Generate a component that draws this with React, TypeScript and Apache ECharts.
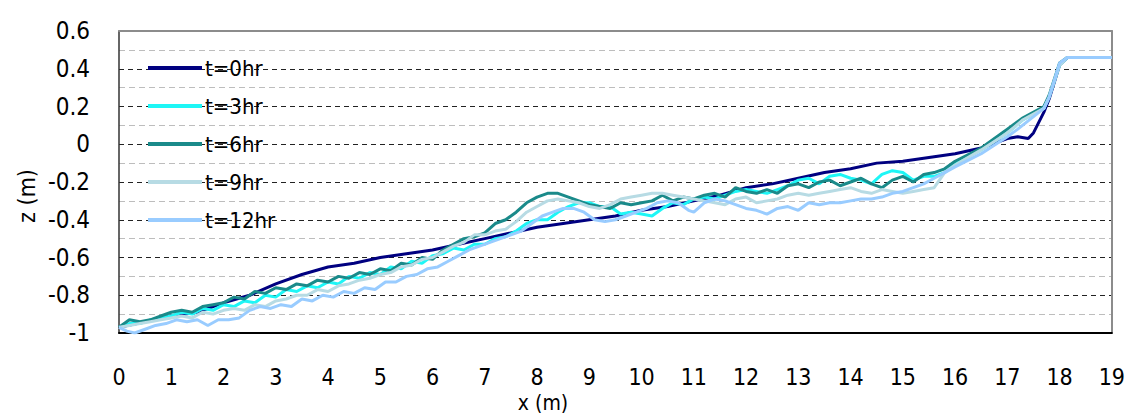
import React, { useEffect, useRef } from "react";
import * as echarts from "echarts";

const FONT = "'DejaVu Sans Condensed', 'Liberation Sans Narrow', 'Arial Narrow', sans-serif";

const seriesNames = ["t=0hr", "t=3hr", "t=6hr", "t=9hr", "t=12hr"];
const seriesColors = ["#000080", "#1ef6f6", "#1a8a8a", "#b7dbe4", "#99ccff"];

const t0: number[][] = [
  [0, -0.97], [0.5, -0.94], [1, -0.91], [1.5, -0.89], [2, -0.84], [2.5, -0.8], [3, -0.74],
  [3.5, -0.69], [4, -0.65], [4.5, -0.63], [5, -0.6], [5.5, -0.58], [6, -0.56], [6.5, -0.53],
  [7, -0.5], [7.5, -0.47], [8, -0.44], [8.5, -0.42], [9, -0.4], [9.5, -0.38], [10, -0.35],
  [10.5, -0.33], [11, -0.3], [11.5, -0.27], [12, -0.23], [12.5, -0.21], [13, -0.18],
  [13.5, -0.15], [14, -0.13], [14.5, -0.1], [15, -0.09], [15.5, -0.07], [16, -0.05],
  [16.5, -0.02], [17, 0.03], [17.2, 0.04], [17.4, 0.03], [17.5, 0.06], [17.7, 0.17],
  [17.8, 0.24], [18, 0.42], [18.15, 0.46], [19, 0.46],
];

const t3: number[][] = [
  [0, -0.97], [0.2, -0.95], [0.4, -0.95], [0.6, -0.93], [0.8, -0.92], [1, -0.91], [1.2, -0.89],
  [1.4, -0.9], [1.6, -0.87], [1.8, -0.88], [2, -0.85], [2.2, -0.86], [2.4, -0.83], [2.6, -0.84],
  [2.8, -0.8], [3, -0.81], [3.2, -0.77], [3.4, -0.78], [3.6, -0.75], [3.8, -0.76], [4, -0.73],
  [4.2, -0.74], [4.4, -0.7], [4.6, -0.71], [4.8, -0.68], [5, -0.69], [5.2, -0.65], [5.4, -0.66],
  [5.6, -0.62], [5.8, -0.63], [6, -0.59], [6.2, -0.58], [6.4, -0.55], [6.6, -0.56], [6.8, -0.53],
  [7, -0.53], [7.2, -0.5], [7.4, -0.49], [7.6, -0.46], [7.8, -0.42], [8, -0.4], [8.2, -0.4],
  [8.4, -0.36], [8.6, -0.33], [8.8, -0.31], [9, -0.31], [9.2, -0.33], [9.4, -0.33], [9.6, -0.37],
  [9.8, -0.36], [10, -0.37], [10.2, -0.38], [10.4, -0.34], [10.6, -0.31], [10.8, -0.32],
  [11, -0.29], [11.2, -0.28], [11.4, -0.29], [11.6, -0.27], [11.8, -0.25], [12, -0.24],
  [12.2, -0.25], [12.4, -0.26], [12.6, -0.24], [12.8, -0.22], [13, -0.19], [13.2, -0.18],
  [13.4, -0.21], [13.6, -0.17], [13.8, -0.16], [14, -0.18], [14.2, -0.19], [14.4, -0.21],
  [14.6, -0.16], [14.8, -0.14], [15, -0.15], [15.2, -0.19], [15.4, -0.17], [15.6, -0.17],
  [15.8, -0.15], [16, -0.1], [16.5, -0.03], [17, 0.06], [17.3, 0.13], [17.7, 0.19],
  [17.8, 0.25], [18, 0.42], [18.15, 0.46], [19, 0.46],
];

const t6: number[][] = [
  [0, -0.97], [0.2, -0.93], [0.4, -0.94], [0.6, -0.93], [0.8, -0.91], [1, -0.89], [1.2, -0.88],
  [1.4, -0.89], [1.6, -0.86], [1.8, -0.85], [2, -0.84], [2.2, -0.81], [2.4, -0.82], [2.6, -0.78],
  [2.8, -0.79], [3, -0.76], [3.2, -0.77], [3.4, -0.74], [3.6, -0.75], [3.8, -0.72], [4, -0.73],
  [4.2, -0.7], [4.4, -0.71], [4.6, -0.68], [4.8, -0.69], [5, -0.66], [5.2, -0.67], [5.4, -0.63],
  [5.6, -0.64], [5.8, -0.6], [6, -0.61], [6.2, -0.56], [6.4, -0.53], [6.6, -0.5], [6.8, -0.49],
  [7, -0.47], [7.2, -0.42], [7.4, -0.4], [7.6, -0.36], [7.8, -0.31], [8, -0.28], [8.2, -0.26],
  [8.4, -0.26], [8.6, -0.28], [8.8, -0.3], [9, -0.32], [9.2, -0.33], [9.4, -0.34], [9.6, -0.31],
  [9.8, -0.32], [10, -0.31], [10.2, -0.3], [10.4, -0.27], [10.6, -0.3], [10.8, -0.28],
  [11, -0.29], [11.2, -0.27], [11.4, -0.26], [11.6, -0.28], [11.8, -0.23], [12, -0.25],
  [12.2, -0.26], [12.4, -0.24], [12.6, -0.26], [12.8, -0.22], [13, -0.21], [13.2, -0.23],
  [13.4, -0.2], [13.6, -0.19], [13.8, -0.22], [14, -0.2], [14.2, -0.18], [14.4, -0.21],
  [14.6, -0.23], [14.8, -0.19], [15, -0.17], [15.2, -0.2], [15.4, -0.16], [15.6, -0.15],
  [15.8, -0.13], [16, -0.09], [16.5, -0.02], [17, 0.08], [17.3, 0.14], [17.7, 0.2],
  [17.8, 0.26], [18, 0.43], [18.15, 0.46], [19, 0.46],
];

const t9: number[][] = [
  [0, -0.97], [0.2, -0.96], [0.4, -0.95], [0.6, -0.94], [0.8, -0.93], [1, -0.92], [1.2, -0.91],
  [1.4, -0.92], [1.6, -0.89], [1.8, -0.9], [2, -0.88], [2.2, -0.87], [2.4, -0.88], [2.6, -0.85],
  [2.8, -0.86], [3, -0.83], [3.2, -0.82], [3.4, -0.8], [3.6, -0.8], [3.8, -0.77], [4, -0.78],
  [4.2, -0.75], [4.4, -0.74], [4.6, -0.72], [4.8, -0.71], [5, -0.69], [5.2, -0.68], [5.4, -0.65],
  [5.6, -0.64], [5.8, -0.61], [6, -0.6], [6.2, -0.57], [6.4, -0.54], [6.6, -0.52], [6.8, -0.48],
  [7, -0.48], [7.2, -0.46], [7.4, -0.45], [7.6, -0.41], [7.8, -0.36], [8, -0.33], [8.2, -0.3],
  [8.4, -0.29], [8.6, -0.3], [8.8, -0.31], [9, -0.33], [9.2, -0.34], [9.4, -0.32], [9.6, -0.29],
  [9.8, -0.28], [10, -0.27], [10.2, -0.26], [10.4, -0.26], [10.6, -0.27], [10.8, -0.28],
  [11, -0.29], [11.2, -0.3], [11.4, -0.31], [11.6, -0.32], [11.8, -0.29], [12, -0.28],
  [12.2, -0.31], [12.4, -0.3], [12.6, -0.29], [12.8, -0.27], [13, -0.26], [13.2, -0.27],
  [13.4, -0.26], [13.6, -0.25], [13.8, -0.24], [14, -0.23], [14.2, -0.25], [14.4, -0.26],
  [14.6, -0.24], [14.8, -0.25], [15, -0.26], [15.2, -0.25], [15.4, -0.24], [15.6, -0.23],
  [15.8, -0.15], [16, -0.11], [16.5, -0.03], [17, 0.06], [17.3, 0.13], [17.7, 0.19],
  [17.8, 0.25], [18, 0.42], [18.15, 0.46], [19, 0.46],
];

const t12: number[][] = [
  [0, -0.97], [0.15, -0.99], [0.3, -1.0], [0.5, -0.98], [0.7, -0.96], [0.9, -0.95], [1.1, -0.93],
  [1.3, -0.94], [1.5, -0.93], [1.7, -0.96], [1.9, -0.93], [2.1, -0.93], [2.3, -0.92], [2.5, -0.88],
  [2.7, -0.86], [2.9, -0.87], [3.1, -0.85], [3.3, -0.86], [3.5, -0.82], [3.7, -0.83], [3.9, -0.8],
  [4.1, -0.81], [4.3, -0.78], [4.5, -0.79], [4.7, -0.76], [4.9, -0.77], [5.1, -0.73], [5.3, -0.73],
  [5.5, -0.7], [5.7, -0.69], [5.9, -0.66], [6.1, -0.65], [6.3, -0.62], [6.5, -0.59], [6.7, -0.56],
  [6.9, -0.54], [7.1, -0.52], [7.3, -0.5], [7.5, -0.48], [7.7, -0.46], [7.9, -0.42], [8.1, -0.38],
  [8.3, -0.36], [8.5, -0.34], [8.7, -0.34], [8.9, -0.36], [9.1, -0.4], [9.3, -0.41], [9.5, -0.4],
  [9.7, -0.38], [9.9, -0.36], [10.1, -0.34], [10.3, -0.31], [10.5, -0.3], [10.7, -0.31],
  [10.9, -0.35], [11, -0.36], [11.2, -0.31], [11.4, -0.29], [11.6, -0.3], [11.8, -0.32],
  [12, -0.34], [12.2, -0.35], [12.4, -0.37], [12.6, -0.34], [12.8, -0.33], [13, -0.35],
  [13.2, -0.31], [13.4, -0.32], [13.6, -0.31], [13.8, -0.31], [14, -0.3], [14.2, -0.29],
  [14.4, -0.29], [14.6, -0.28], [14.8, -0.26], [15, -0.25], [15.2, -0.23], [15.4, -0.21],
  [15.6, -0.18], [15.8, -0.15], [16, -0.12], [16.5, -0.05], [17, 0.04], [17.2, 0.08],
  [17.7, 0.19], [17.8, 0.25], [18, 0.43], [18.15, 0.46], [19, 0.46],
];

const seriesData = [t0, t3, t6, t9, t12];

const xTitle = "x (m)";
const yTitle = "z (m)";

export default function App() {
  const ref = useRef<HTMLDivElement>(null);

  useEffect(() => {
    if (!ref.current) return;
    const chart = echarts.init(ref.current, null, { renderer: "svg" });
    chart.setOption({
      animation: false,
      backgroundColor: "#fff",
      grid: { left: 119, right: 15, top: 31, bottom: 81 },
      legend: {
        orient: "vertical",
        left: 148,
        top: 57,
        padding: 0,
        icon: "rect",
        itemWidth: 54,
        itemHeight: 4,
        itemGap: 16,
        data: seriesNames,
        textStyle: { color: "#000", fontSize: 22, fontFamily: FONT, lineHeight: 22, padding: [0, 0, 0, -2] },
      },
      xAxis: [
        {
          type: "value",
          min: 0,
          max: 19,
          interval: 1,
          axisLine: { show: true, onZero: false, lineStyle: { color: "#000", width: 2 } },
          axisTick: { show: false },
          axisLabel: { color: "#000", fontSize: 23, fontFamily: FONT, margin: 32 },
          splitLine: { show: false },
        },
        {
          type: "value",
          position: "top",
          min: 0,
          max: 19,
          interval: 1,
          axisLine: { show: true, onZero: false, lineStyle: { color: "#8c8c8c", width: 2 } },
          axisTick: { show: false },
          axisLabel: { show: false },
          splitLine: { show: false },
        },
      ],
      yAxis: [
        {
          type: "value",
          min: -1,
          max: 0.6,
          interval: 0.2,
          axisLine: { show: true, onZero: false, lineStyle: { color: "#333", width: 1.5 } },
          axisTick: { show: false },
          axisLabel: { color: "#000", fontSize: 24, fontFamily: FONT, margin: 29 },
          splitLine: { show: true, lineStyle: { color: "#222", width: 1, type: [5, 4] } },
          minorTick: { show: false, splitNumber: 2 },
          minorSplitLine: { show: true, lineStyle: { color: "#bdbdbd", width: 1, type: [6, 4] } },
        },
        {
          type: "value",
          position: "right",
          min: -1,
          max: 0.6,
          interval: 0.2,
          axisLine: { show: true, onZero: false, lineStyle: { color: "#8c8c8c", width: 2 } },
          axisTick: { show: false },
          axisLabel: { show: false },
          splitLine: { show: false },
        },
      ],
      graphic: [
        {
          type: "text",
          x: 543,
          y: 403,
          style: {
            text: xTitle,
            fill: "#000",
            fontSize: 21,
            fontFamily: FONT,
            align: "center",
            verticalAlign: "middle",
          },
        },
        {
          type: "text",
          x: 27,
          y: 196,
          rotation: Math.PI / 2,
          style: {
            text: yTitle,
            fill: "#000",
            fontSize: 23,
            fontFamily: FONT,
            align: "center",
            verticalAlign: "middle",
          },
        },
      ],
      series: seriesNames.map((name, i) => ({
        name,
        type: "line",
        data: seriesData[i],
        symbol: "none",
        showSymbol: false,
        color: seriesColors[i],
        lineStyle: { color: seriesColors[i], width: 3 },
        z: 3 + i,
      })),
    });
    return () => chart.dispose();
  }, []);

  return (
    <div
      ref={ref}
      style={{ position: "fixed", left: 0, top: 0, width: 1128, height: 414 }}
    />
  );
}
